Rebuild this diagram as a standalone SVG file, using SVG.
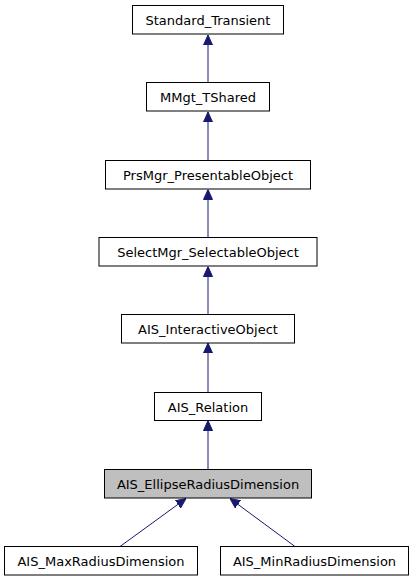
<svg xmlns="http://www.w3.org/2000/svg" width="413" height="581" viewBox="0 0 413 581">
<style>
.n rect{fill:#fff;stroke:#000;stroke-width:1}
.n.cur rect{fill:#bfbfbf}
text{font-family:"DejaVu Sans",sans-serif;font-size:13px;text-anchor:middle;fill:#000}
.e line{stroke:midnightblue;stroke-width:1}
</style>
<defs>
<marker id="a" markerWidth="10" markerHeight="10" refX="10" refY="5" orient="auto" markerUnits="userSpaceOnUse">
<path d="M0,0.5 L10,5 L0,9.5 z" fill="midnightblue" stroke="midnightblue" stroke-width="1"/>
</marker>
</defs>
<g class="e">
<line x1="208" y1="82.5" x2="208" y2="35" marker-end="url(#a)"/>
<line x1="208" y1="160.5" x2="208" y2="112" marker-end="url(#a)"/>
<line x1="208" y1="237.5" x2="208" y2="189.5" marker-end="url(#a)"/>
<line x1="208" y1="314.5" x2="208" y2="266.5" marker-end="url(#a)"/>
<line x1="208" y1="392.5" x2="208" y2="343" marker-end="url(#a)"/>
<line x1="208" y1="469.5" x2="208" y2="420.5" marker-end="url(#a)"/>
<line x1="120" y1="546.5" x2="186" y2="498.5" marker-end="url(#a)"/>
<line x1="295" y1="546.5" x2="230" y2="498.5" marker-end="url(#a)"/>
</g>
<g id="n1" class="n"><rect x="132.5" y="5.5" width="151" height="28.5"/><text x="208" y="24.5">Standard_Transient</text></g>
<g id="n2" class="n"><rect x="146.5" y="82.5" width="123" height="28.5"/><text x="208" y="101.5">MMgt_TShared</text></g>
<g id="n3" class="n"><rect x="105.5" y="160.5" width="205" height="28.5"/><text x="208" y="179.5">PrsMgr_PresentableObject</text></g>
<g id="n4" class="n"><rect x="99" y="237.5" width="218" height="28.5"/><text x="208" y="256.5">SelectMgr_SelectableObject</text></g>
<g id="n5" class="n"><rect x="121.5" y="314.5" width="173" height="28.5"/><text x="208" y="333.5">AIS_InteractiveObject</text></g>
<g id="n6" class="n"><rect x="154.5" y="392.5" width="107" height="28"/><text x="208" y="411.5">AIS_Relation</text></g>
<g id="n7" class="n cur"><rect x="104.5" y="469.5" width="207" height="28.5"/><text x="208" y="488.5">AIS_EllipseRadiusDimension</text></g>
<g id="n8" class="n"><rect x="4.5" y="546.5" width="193" height="28.5"/><text x="101" y="565.5">AIS_MaxRadiusDimension</text></g>
<g id="n9" class="n"><rect x="220.5" y="546.5" width="188" height="28.5"/><text x="314.5" y="565.5">AIS_MinRadiusDimension</text></g>
</svg>
